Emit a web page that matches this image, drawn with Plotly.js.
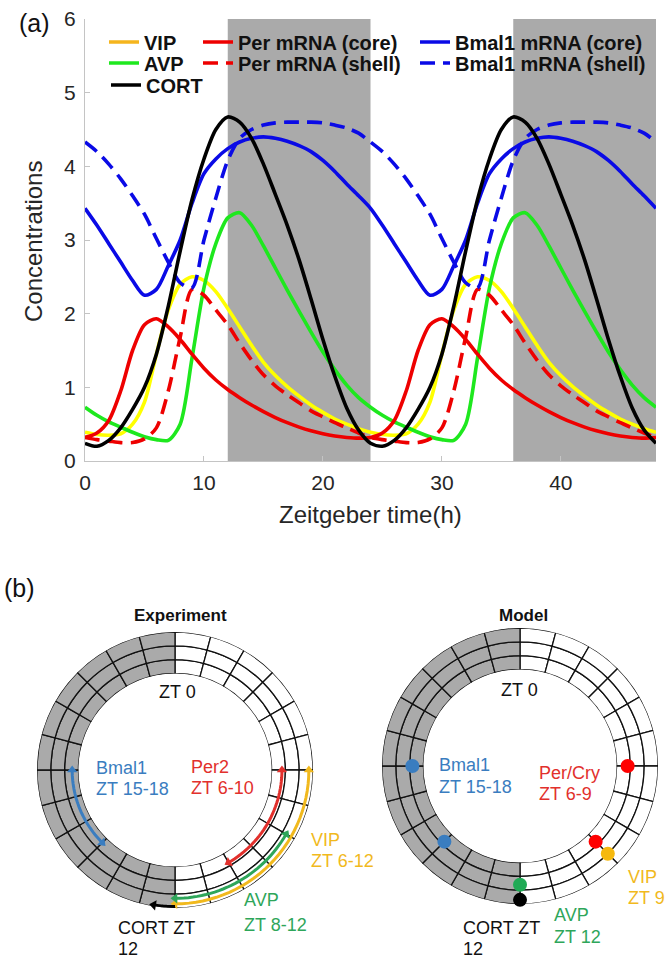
<!DOCTYPE html>
<html><head><meta charset="utf-8">
<script src="https://cdn.plot.ly/plotly-3.0.1.min.js"></script>
<style>html,body{margin:0;padding:0;background:#fff;}#chart{width:668px;height:960px;}</style>
</head><body><div id="chart"></div>
<script>
// ---------- panel (a) data ----------
const hours = [0,1,2,3,4,5,6,7,8,9,10,11,12,13,14,15,16,17,18,19,20,21,22,23,24,25,26,27,28,29,30,31,32,33,34,35,36,37,38,39,40,41,42,43,44,45,46,47,48];
const vip = [0.39,0.36,0.35,0.37,0.5,0.8,1.45,2.05,2.4,2.5,2.45,2.3,2.07,1.82,1.57,1.34,1.16,1.01,0.88,0.76,0.66,0.57,0.5,0.44,0.39,
             0.36,0.35,0.37,0.5,0.8,1.45,2.05,2.4,2.5,2.45,2.3,2.07,1.82,1.57,1.34,1.16,1.01,0.88,0.76,0.66,0.57,0.5,0.44,0.39];
const avp = [0.73,0.62,0.53,0.46,0.39,0.33,0.29,0.28,0.5,1.4,2.35,2.95,3.3,3.37,3.2,2.92,2.62,2.32,2.03,1.75,1.48,1.24,1.03,0.86,0.73,
             0.62,0.53,0.46,0.39,0.33,0.29,0.28,0.5,1.4,2.35,2.95,3.3,3.37,3.2,2.92,2.62,2.32,2.03,1.75,1.48,1.24,1.03,0.86,0.73];
const cort = [0.24,0.2,0.28,0.45,0.7,1.0,1.45,2.1,2.85,3.55,4.1,4.5,4.67,4.6,4.38,4.03,3.62,3.2,2.73,2.2,1.65,1.15,0.72,0.42,0.24,
              0.2,0.28,0.45,0.7,1.0,1.45,2.1,2.85,3.55,4.1,4.5,4.67,4.6,4.38,4.03,3.62,3.2,2.73,2.2,1.65,1.15,0.72,0.42,0.24];
const perCore = [0.32,0.38,0.55,0.95,1.5,1.85,1.93,1.82,1.65,1.45,1.26,1.1,0.97,0.86,0.76,0.67,0.59,0.52,0.46,0.41,0.37,0.34,0.32,0.31,0.32,
                 0.38,0.55,0.95,1.5,1.85,1.93,1.82,1.65,1.45,1.26,1.1,0.97,0.86,0.76,0.67,0.59,0.52,0.46,0.41,0.37,0.34,0.32,0.31,0.32];
const perShell = [0.32,0.29,0.27,0.25,0.25,0.3,0.45,0.95,1.68,2.33,2.25,2.05,1.85,1.6,1.37,1.17,1.02,0.9,0.79,0.68,0.6,0.52,0.45,0.38,0.32,
                  0.29,0.27,0.25,0.25,0.3,0.45,0.95,1.68,2.33,2.25,2.05,1.85,1.6,1.37,1.17,1.02,0.9,0.79,0.68,0.6,0.52,0.45,0.38,0.32];
const bmalCore = [3.43,3.2,2.95,2.7,2.45,2.25,2.33,2.65,3.0,3.5,3.9,4.1,4.24,4.33,4.38,4.4,4.38,4.34,4.28,4.2,4.08,3.93,3.76,3.6,3.43,
                  3.2,2.95,2.7,2.45,2.25,2.33,2.65,3.0,3.5,3.9,4.1,4.24,4.33,4.38,4.4,4.38,4.34,4.28,4.2,4.08,3.93,3.76,3.6,3.43];
const bmalShell = [4.33,4.2,4.03,3.83,3.6,3.35,3.02,2.7,2.42,2.35,3.0,3.57,4.08,4.38,4.5,4.56,4.59,4.6,4.6,4.6,4.59,4.56,4.52,4.45,4.33,
                   4.2,4.03,3.83,3.6,3.35,3.02,2.7,2.42,2.35,3.0,3.57,4.08,4.38,4.5,4.56,4.59,4.6,4.6,4.6,4.59,4.56,4.52,4.45,4.33];
const darkStart = [12, 36];
const darkEnd = [24, 48];
const xTicks = [0, 10, 20, 30, 40];

// ---------- panel (b) data ----------
const ringHours = [0,1,2,3,4,5,6,7,8,9,10,11,12,13,14,15,16,17,18,19,20,21,22,23];
const nightFromZT = 12;
const expNames = ['Per2', 'VIP', 'AVP', 'Bmal1', 'CORT'];
const expStart = [6, 6, 8, 15, 12];
const expEnd = [10, 12, 12, 18, 12.6];
const modelNames = ['Bmal1', 'Bmal1', 'Per/Cry', 'Per/Cry', 'VIP', 'AVP', 'CORT'];
const modelZT = [18, 15, 6, 9, 9, 12, 12];

// ---------- styles ----------
const FONT = 'Liberation Sans, Arial, Helvetica, sans-serif';
const C = {vip:'#ffff00', vipLeg:'#f5b51d', avp:'#1ee81e', cort:'#000000', per:'#ee0000', bmal:'#0a0ae6',
           tBlue:'#3a7dc0', tRed:'#e2302c', tYel:'#f1b91d', tGreen:'#2ea65a', grey:'#aaaaaa'};
const LW = 3.6;
const expColor = [C.tRed, C.tYel, C.tGreen, C.tBlue, '#000000'];
const expRad = [0.75, 2.7, 2.3, 0.45, 2.9];
const expDouble = [true, true, true, true, false];
const modelColor = [C.tBlue, C.tBlue, '#ff0000', '#ff0000', '#f6b90e', '#20aa55', '#000000'];
const modelRad = [0.8, 0.75, 0.8, 0.75, 2.0, 1.6, 2.7];

const W = 668, H = 960;
const px = v => v / W, py = v => 1 - v / H;

const traces = [];
function curve(y, name, color, dash, leg) {
  traces.push({type:'scatter', mode:'lines', x: hours, y: y, name: name, legend: leg,
    line:{color: color, width: LW, dash: dash, shape:'spline', smoothing: 0.8}, xaxis:'x', yaxis:'y'});
}
curve(vip, 'VIP', C.vip, 'solid', 'legend');
traces[0].showlegend = false;
traces.push({type:'scatter', mode:'lines', x:[null], y:[null], name:'VIP', legend:'legend',
  line:{color:C.vipLeg, width:LW}, xaxis:'x', yaxis:'y'});
curve(avp, 'AVP', C.avp, 'solid', 'legend2');
curve(perCore, 'Per mRNA (core)', C.per, 'solid', 'legend4');
curve(perShell, 'Per mRNA (shell)', C.per, '15px,8px', 'legend5');
curve(bmalCore, 'Bmal1 mRNA (core)', C.bmal, 'solid', 'legend6');
curve(bmalShell, 'Bmal1 mRNA (shell)', C.bmal, '15px,8px', 'legend7');
curve(cort, 'CORT', C.cort, 'solid', 'legend3');

// ---------- rings ----------
function ring(polarId) {
  for (let k = 0; k < 3; k++) {
    traces.push({type:'barpolar', subplot: polarId, showlegend:false, hoverinfo:'skip',
      theta: ringHours.map(h => h * 15 + 7.5), width: ringHours.map(() => 15),
      r: ringHours.map(() => 1), base: ringHours.map(() => k),
      marker:{color: ringHours.map(h => h >= nightFromZT ? C.grey : '#ffffff'),
              line:{color:'#111111', width:1.3}}});
  }
}
ring('polar');
ring('polar2');

function arcTheta(z0, z1) {
  const out = [], n = 30;
  for (let i = 0; i <= n; i++) out.push((z0 + (z1 - z0) * i / n) * 15);
  return out;
}
for (let i = 0; i < expNames.length; i++) {
  const th = arcTheta(expStart[i], expEnd[i]);
  traces.push({type:'scatterpolar', subplot:'polar', mode:'lines', showlegend:false,
    theta: th, r: th.map(() => expRad[i]), line:{color: expColor[i], width:3}});
  const ht = [expEnd[i] * 15], ha = [expEnd[i] * 15 + 90];
  if (expDouble[i]) { ht.push(expStart[i] * 15); ha.push(expStart[i] * 15 - 90); }
  traces.push({type:'scatterpolar', subplot:'polar', mode:'markers', showlegend:false,
    theta: ht, r: ht.map(() => expRad[i]),
    marker:{symbol:'triangle-up', size:9, angle: ha, color: expColor[i], line:{width:0}}});
}
traces.push({type:'scatterpolar', subplot:'polar2', mode:'markers', showlegend:false,
  theta: modelZT.map(z => z * 15), r: modelRad,
  marker:{size:14, color: modelColor, line:{width:0}}});

// ---------- annotations ----------
const ann = [];
function txt(t, x, y, color, size, anchor, bold, yanchor) {
  ann.push({text: t, xref:'paper', yref:'paper', x: px(x), y: py(y), xanchor: anchor || 'left', yanchor: yanchor || 'middle',
    showarrow:false, borderpad:0, font:{family: FONT, size: size || 18, color: color || '#111111', weight: bold ? 'bold' : 'normal'}});
}
txt('(a)', 34, 23, '#111', 25, 'center');
txt('(b)', 19, 588, '#111', 25, 'center');
ann.push({text:'Zeitgeber time(h)', xref:'paper', yref:'paper', x: px(370), y: py(514), xanchor:'center', yanchor:'middle',
  showarrow:false, font:{family: FONT, size:24, color:'#262626'}});
ann.push({text:'Concentrations', xref:'paper', yref:'paper', x: px(33), y: py(242), xanchor:'center', yanchor:'middle',
  textangle:-90, showarrow:false, font:{family: FONT, size:24, color:'#262626'}});
txt('Experiment', 180, 615, '#111', 17, 'center', true);
txt('Model', 523, 615, '#111', 17, 'center', true);
txt('ZT 0', 177, 692, '#111', 18, 'center');
txt('ZT 0', 519, 690, '#111', 18, 'center');
txt('Bmal1', 95, 768, C.tBlue); txt('ZT 15-18', 95, 789, C.tBlue);
txt('Per2', 190, 767, C.tRed); txt('ZT 6-10', 190, 788, C.tRed);
txt('VIP', 310, 840, C.tYel); txt('ZT 6-12', 310, 861, C.tYel);
txt('AVP', 243, 900, C.tGreen); txt('ZT 8-12', 243, 925, C.tGreen);
txt('CORT ZT', 117, 928); txt('12', 117, 960, '#111', 18, 'left', false, 'bottom');
txt('Bmal1', 438, 765, C.tBlue); txt('ZT 15-18', 438, 787, C.tBlue);
txt('Per/Cry', 538, 773, C.tRed); txt('ZT 6-9', 538, 794, C.tRed);
txt('VIP', 627, 877, C.tYel); txt('ZT 9', 627, 898, C.tYel);
txt('AVP', 553, 915, C.tGreen); txt('ZT 12', 553, 937, C.tGreen);
txt('CORT ZT', 462, 928); txt('12', 462, 960, '#111', 18, 'left', false, 'bottom');

const shapes = darkStart.map((s, i) => ({type:'rect', xref:'x', yref:'y', x0: s, x1: darkEnd[i], y0: 0, y1: 6,
  fillcolor: C.grey, line:{width:0}, layer:'below'}));

function leg(x, y) {
  return {x: px(x), y: py(y), xanchor:'left', yanchor:'middle', bgcolor:'rgba(0,0,0,0)', borderwidth:0,
    font:{family: FONT, size:20, color:'#111111', weight:'bold'}, itemwidth:30, tracegroupgap:0};
}

const polarCommon = {hole:0.7, bgcolor:'rgba(0,0,0,0)', bargap:0,
  radialaxis:{range:[0,3], visible:false}, angularaxis:{visible:false, rotation:90, direction:'clockwise'}};

const layout = {
  width: W, height: H, margin:{l:0, r:0, t:0, b:0}, paper_bgcolor:'#ffffff', plot_bgcolor:'rgba(0,0,0,0)',
  showlegend: true,
  xaxis:{domain:[px(85), px(656)], range:[0,48], tickvals: xTicks, ticks:'inside', ticklen:5, tickcolor:'#c4c4c4',
    showline:true, linecolor:'#c4c4c4', linewidth:1, showgrid:false, zeroline:false, fixedrange:true, ticklabelstandoff:3,
    tickfont:{family: FONT, size:21, color:'#262626'}},
  yaxis:{domain:[py(461), py(19)], range:[0,6], dtick:1, ticks:'inside', ticklen:5, tickcolor:'#c4c4c4',
    showline:true, linecolor:'#c4c4c4', linewidth:1, showgrid:false, zeroline:false, fixedrange:true, ticklabelstandoff:4,
    tickfont:{family: FONT, size:21, color:'#262626'}},
  shapes: shapes,
  annotations: ann,
  polar: Object.assign({domain:{x:[px(37), px(313)], y:[py(908), py(632)]}}, JSON.parse(JSON.stringify(polarCommon))),
  polar2: Object.assign({domain:{x:[px(382), px(658)], y:[py(904), py(628)]}}, JSON.parse(JSON.stringify(polarCommon))),
  legend: leg(104, 42), legend2: leg(104, 63), legend3: leg(106, 85),
  legend4: leg(198, 42), legend5: leg(198, 63), legend6: leg(415, 42), legend7: leg(415, 63)
};

Plotly.newPlot('chart', traces, layout, {displayModeBar:false, staticPlot:true});
</script></body></html>
